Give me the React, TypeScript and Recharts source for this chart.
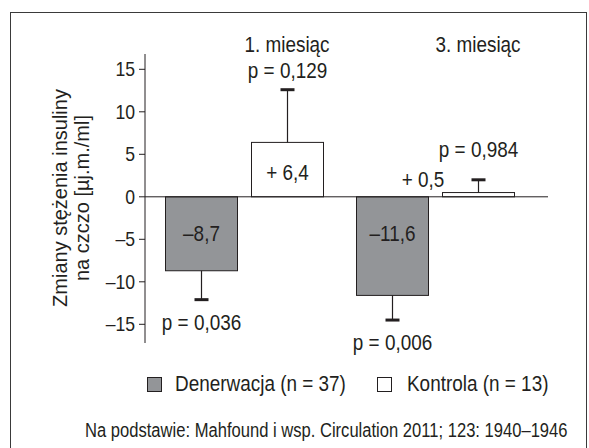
import { BarChart, Bar, XAxis, YAxis, ReferenceLine, Legend } from 'recharts'

// wartości
const months = ['1. miesiąc', '3. miesiąc']
const denerwacja = [-8.7, -11.6]
const kontrola = [6.4, 0.5]
const denerwacjaErr = [3.4, 2.9]
const kontrolaErr = [6.2, 1.5]
const denerwacjaP = ['p = 0,036', 'p = 0,006']
const kontrolaP = ['p = 0,129', 'p = 0,984']
const yTicks = [-15, -10, -5, 0, 5, 10, 15]
const seriesNames = ['Denerwacja (n = 37)', 'Kontrola (n = 13)']
const yLabel = ['Zmiany stężenia insuliny', 'na czczo [µj.m./ml]']
const source = 'Na podstawie: Mahfound i wsp. Circulation 2011; 123: 1940–1946'

const FONT = "'Liberation Sans', Arial, sans-serif"
const INK = '#231f20'
const GRAY = '#939598'
// brak fontu "narrow" – zwężamy zwykły krój
const SIZE = 22
const SX = 0.86

const data = months.map((m, i) => ({
  month: m,
  den: denerwacja[i],
  kon: kontrola[i],
  denErr: denerwacjaErr[i],
  konErr: kontrolaErr[i],
  denP: denerwacjaP[i],
  konP: kontrolaP[i],
}))

const fmt = (v: number) => (v < 0 ? '–' : '+ ') + Math.abs(v).toFixed(1).replace('.', ',')
const fmtTick = (v: number) => (v < 0 ? '–' + Math.abs(v) : String(v))

function NText({ x, y, children, size = SIZE, sx = SX, anchor = 'middle' }: any) {
  return (
    <text
      transform={`translate(${x},${y}) scale(${sx},1)`}
      x={0}
      y={0}
      fontFamily={FONT}
      fontSize={size}
      fill={INK}
      textAnchor={anchor}
    >
      {children}
    </text>
  )
}

/** słupek + jednostronny wąs błędu + etykiety wartości i p */
function makeShape(valKey: string, errKey: string, pKey: string) {
  return (props: any) => {
    const { x, y, width, height, fill, payload } = props
    const v = payload[valKey]
    const top = Math.min(y, y + height)
    const h = Math.abs(height)
    const pxPerUnit = h / Math.abs(v)
    const neg = v < 0
    const zero = neg ? top : top + h
    const end = neg ? top + h : top
    const errPx = payload[errKey] * pxPerUnit
    const cap = neg ? end + errPx : end - errPx
    const cx = Math.round(x + width / 2) + 0.5
    const small = h < 30

    let vx = cx
    let vy = neg ? zero + 44.5 : zero - 17
    if (!neg && small) {
      vx = x - 19
      vy = zero - 10
    }
    const py = neg ? cap + 30 : cap - (small ? 23 : 12)

    return (
      <g>
        <rect
          x={Math.round(x) + 0.5}
          y={top}
          width={Math.round(width)}
          height={h}
          fill={fill}
          stroke={INK}
          strokeWidth={1}
        />
        <line x1={cx} x2={cx} y1={end} y2={cap} stroke={INK} strokeWidth={1.2} />
        <line x1={cx - 7} x2={cx + 7} y1={cap} y2={cap} stroke={INK} strokeWidth={3} />
        <NText x={vx} y={vy}>{fmt(v)}</NText>
        <NText x={cx} y={py}>{payload[pKey]}</NText>
      </g>
    )
  }
}

function MonthTick(props: any) {
  const { x, payload } = props
  return <NText x={x + 43} y={52}>{payload.value}</NText>
}

function ValueTick(props: any) {
  const { x, y, payload } = props
  return (
    <NText x={x} y={y + 7} size={20} sx={0.88} anchor="end">
      {fmtTick(payload.value)}
    </NText>
  )
}

function YLabel() {
  return (
    <g fontFamily={FONT} fontSize={20} fill={INK}>
      <text x={67} y={198} textAnchor="middle" transform="rotate(-90, 67, 198)">
        {yLabel[0]}
      </text>
      <text x={89} y={198} textAnchor="middle" transform="rotate(-90, 89, 198)">
        {yLabel[1]}
      </text>
    </g>
  )
}

function LegendBox() {
  const fills = [GRAY, '#fff']
  const sq = [147, 377]
  const tx = [175, 407]
  return (
    <div style={{ position: 'relative', height: 30, fontFamily: FONT, fontSize: SIZE, lineHeight: '22px', color: INK, whiteSpace: 'nowrap' }}>
      {seriesNames.map((n, i) => (
        <div key={n}>
          <span
            style={{
              position: 'absolute',
              left: sq[i],
              top: 7,
              width: 15,
              height: 15,
              boxSizing: 'border-box',
              border: `1px solid ${INK}`,
              background: fills[i],
            }}
          />
          <span style={{ position: 'absolute', left: tx[i], top: 3, transform: `scaleX(${SX})`, transformOrigin: 'left' }}>{n}</span>
        </div>
      ))}
    </div>
  )
}

export default function App() {
  return (
    <div style={{ position: 'relative', width: 589, height: 448, background: '#fff', overflow: 'hidden' }}>
      <style>{'body{margin:0}'}</style>
      <div
        style={{
          position: 'absolute',
          left: 10,
          top: 12,
          width: 577,
          height: 440,
          boxSizing: 'border-box',
          border: '1px solid #3a3a3a',
          borderBottom: 'none',
        }}
      />
      <div style={{ position: 'absolute', left: 0, top: 0 }}>
        <BarChart
          width={589}
          height={448}
          data={data}
          margin={{ top: 30, right: 41, left: 0, bottom: 75 }}
          barCategoryGap={16.5}
          barGap={14}
        >
          <XAxis
            dataKey="month"
            orientation="top"
            height={24}
            axisLine={false}
            tickLine={false}
            tickSize={0}
            tick={<MonthTick />}
            padding={{ left: 3.5, right: 17.5 }}
          />
          <YAxis
            width={145}
            domain={[-17.2, 16.8]}
            ticks={yTicks}
            tick={<ValueTick />}
            tickSize={6}
            tickMargin={4}
            stroke={INK}
            tickLine={{ stroke: INK }}
            axisLine={{ stroke: INK }}
            label={{ content: () => <YLabel /> }}
          />
          <Bar dataKey="den" name={seriesNames[0]} fill={GRAY} shape={makeShape('den', 'denErr', 'denP')} isAnimationActive={false} />
          <Bar dataKey="kon" name={seriesNames[1]} fill="#ffffff" shape={makeShape('kon', 'konErr', 'konP')} isAnimationActive={false} />
          <ReferenceLine y={0} stroke={INK} strokeWidth={1} />
          <Legend
            verticalAlign="bottom"
            wrapperStyle={{ top: 370, left: 0, width: 589, height: 30 }}
            content={() => <LegendBox />}
          />
        </BarChart>
      </div>
      <div
        style={{
          position: 'absolute',
          left: 85,
          top: 419,
          fontFamily: FONT,
          fontSize: 19.5,
          lineHeight: '22px',
          color: INK,
          whiteSpace: 'nowrap',
          transform: 'scaleX(0.85)',
          transformOrigin: 'left',
        }}
      >
        {source}
      </div>
    </div>
  )
}
